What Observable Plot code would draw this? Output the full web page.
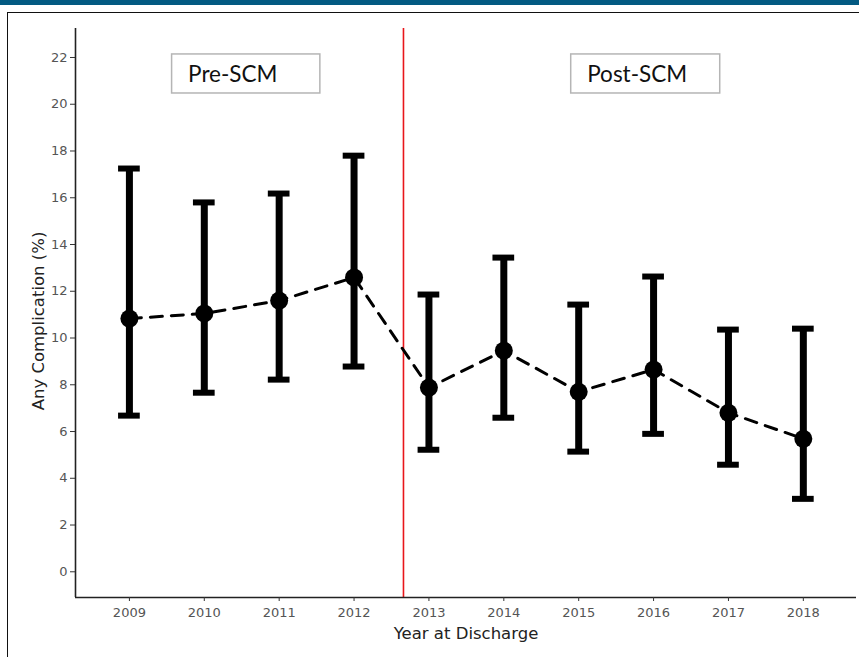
<!DOCTYPE html>
<html>
<head>
<meta charset="utf-8">
<script src="https://cdn.jsdelivr.net/npm/d3@7"></script>
<script src="https://cdn.jsdelivr.net/npm/@observablehq/plot@0.6"></script>
<style>
  html, body { margin: 0; padding: 0; background: #fff; }
  #wrap { position: relative; width: 859px; height: 657px; overflow: hidden; }
  #band { position: absolute; left: 0; top: 0; width: 859px; height: 5px; background: #035a82; }
  #frame { position: absolute; left: 7px; top: 12px; width: 900px; height: 700px; border: 1.5px solid #111; }
  #chart { position: absolute; left: 0; top: 0; }
</style>
</head>
<body>
<div id="wrap">
  <div id="band"></div>
  <div id="frame"></div>
  <div id="chart"></div>
</div>
<script>
const years = [2009, 2010, 2011, 2012, 2013, 2014, 2015, 2016, 2017, 2018];
const estimate = [10.83, 11.05, 11.6, 12.59, 7.88, 9.46, 7.7, 8.65, 6.8, 5.69];
const lower = [6.68, 7.66, 8.22, 8.78, 5.22, 6.59, 5.14, 5.9, 4.58, 3.12];
const upper = [17.25, 15.8, 16.18, 17.8, 11.86, 13.44, 11.43, 12.63, 10.36, 10.4];
const yTicks = [0, 2, 4, 6, 8, 10, 12, 14, 16, 18, 20, 22];
const interventionYear = [2012.66];
const boxLabels = ["Pre-SCM", "Post-SCM"];
const boxX1 = [2009.57, 2014.9];
const boxX2 = [2011.55, 2016.89];
const boxY1 = [20.46, 20.46];
const boxY2 = [22.13, 22.13];

const xDomain = [2008.28, 2018.71];
const yDomain = [-1.1, 23.24];
const capHalf = 0.145;
const sans = "'DejaVu Sans', Verdana, sans-serif";

const data = years.map((year, i) => ({year, est: estimate[i], lo: lower[i], hi: upper[i]}));
const boxes = boxLabels.map((label, i) => ({label, x1: boxX1[i], x2: boxX2[i], y1: boxY1[i], y2: boxY2[i]}));

const plot = Plot.plot({
  width: 859,
  height: 657,
  marginLeft: 75,
  marginTop: 28,
  marginRight: 3,
  marginBottom: 60,
  style: { background: "transparent", fontFamily: sans },
  x: { domain: xDomain, ticks: years, tickFormat: d => String(d), label: null },
  y: { domain: yDomain, ticks: yTicks, label: null },
  marks: [
    Plot.rect(boxes, {x1: "x1", x2: "x2", y1: "y1", y2: "y2", fill: "white", stroke: "#b5b5b5", strokeWidth: 1.5}),
    Plot.text(boxes, {x: "x1", y: d => (d.y1 + d.y2) / 2, text: "label", textAnchor: "start", dx: 16, dy: 1, fontSize: 22.5, fontFamily: "Lato, 'Open Sans', sans-serif", fill: "#111"}),
    Plot.ruleX(interventionYear, {stroke: "#e8161b", strokeWidth: 1.6}),
    Plot.line(data, {x: "year", y: "est", stroke: "black", strokeWidth: 3, strokeDasharray: "12,9"}),
    Plot.ruleX(data, {x: "year", y1: "lo", y2: "hi", stroke: "black", strokeWidth: 7}),
    Plot.ruleY(data, {y: "hi", x1: d => d.year - capHalf, x2: d => d.year + capHalf, stroke: "black", strokeWidth: 6}),
    Plot.ruleY(data, {y: "lo", x1: d => d.year - capHalf, x2: d => d.year + capHalf, stroke: "black", strokeWidth: 6}),
    Plot.dot(data, {x: "year", y: "est", r: 9, fill: "black"}),
    Plot.ruleX([xDomain[0]], {stroke: "#222", strokeWidth: 1.6}),
    Plot.ruleY([yDomain[0]], {stroke: "#222", strokeWidth: 1.6}),
    Plot.axisY({ticks: yTicks, tickSize: 5, tickPadding: 3, fontSize: 13, fontFamily: sans, fill: "#555", stroke: "#333", label: null}),
    Plot.axisX({ticks: years, tickFormat: d => String(d), tickSize: 4, tickPadding: 6, fontSize: 13, fontFamily: sans, fill: "#555", stroke: "#333", label: null}),
    Plot.text(["Year at Discharge"], {frameAnchor: "bottom", dy: 41, fontSize: 16.5, fontFamily: sans, fill: "#222"}),
    Plot.text(["Any Complication (%)"], {frameAnchor: "left", textAnchor: "middle", dx: -37, dy: 8, rotate: -90, fontSize: 16.5, fontFamily: sans, fill: "#222"})
  ]
});
document.getElementById("chart").appendChild(plot);
</script>
</body>
</html>
